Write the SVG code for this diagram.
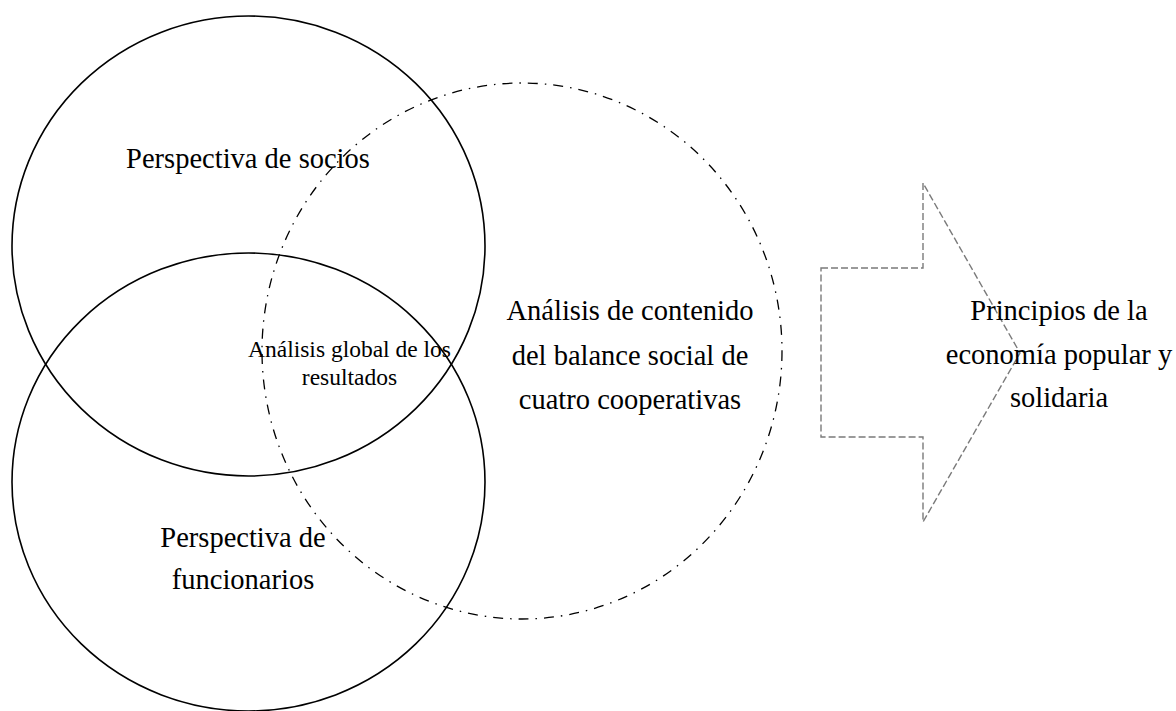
<svg xmlns="http://www.w3.org/2000/svg" width="1176" height="711" viewBox="0 0 1176 711">
<style>
.solid{fill:none;stroke:#000;stroke-width:1.6}
.dashdot{fill:none;stroke:#000;stroke-width:1.3;stroke-dasharray:10 7 1.5 7}
.arrow{fill:none;stroke:#7a7a7a;stroke-width:1.4;stroke-dasharray:7 3}
text{font-family:"Liberation Serif","Times New Roman",serif;fill:#000;text-anchor:middle}
.big{font-size:28.5px}
.small{font-size:23.5px}
</style>
<rect width="1176" height="711" fill="#fff"/>
<g id="socios">
<ellipse class="solid" cx="248.5" cy="246" rx="236.5" ry="230"/>
<text class="big" x="248" y="168">Perspectiva de socios</text>
</g>
<g id="funcionarios">
<ellipse class="solid" cx="248.5" cy="482" rx="236.5" ry="229"/>
<text class="big" x="243" y="547">Perspectiva de</text>
<text class="big" x="243" y="589">funcionarios</text>
</g>
<g id="contenido">
<ellipse class="dashdot" cx="522" cy="351" rx="260" ry="268"/>
<text class="big" x="630" y="320">Análisis de contenido</text>
<text class="big" x="630" y="365">del balance social de</text>
<text class="big" x="630" y="409">cuatro cooperativas</text>
</g>
<g id="global">
<text class="small" x="349.5" y="357">Análisis global de los</text>
<text class="small" x="349.5" y="385">resultados</text>
</g>
<g id="connectors">
<path class="arrow" d="M821,268 L923,268 L923,183 L1020,353 L923,522 L923,437 L821,437 Z"/>
</g>
<g id="principios">
<text class="big" x="1059" y="320">Principios de la</text>
<text class="big" x="1059" y="364">economía popular y</text>
<text class="big" x="1059" y="407">solidaria</text>
</g>
</svg>
